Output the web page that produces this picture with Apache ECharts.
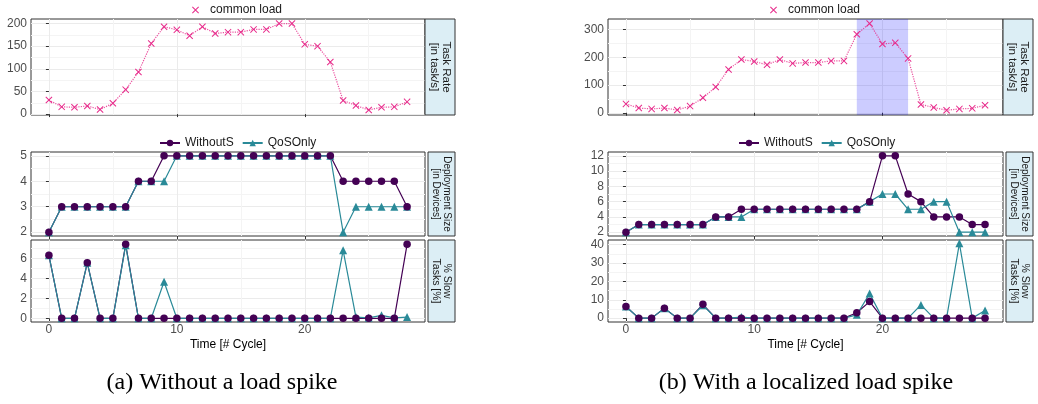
<!DOCTYPE html>
<html><head><meta charset="utf-8">
<script src="https://cdn.jsdelivr.net/npm/echarts@6/dist/echarts.min.js"></script>
<style>html,body{margin:0;padding:0;background:#fff}#c{width:1038px;height:404px}</style>
</head><body><div id="c"></div>
<script>
// ---- data ----
const cycles = [0,1,2,3,4,5,6,7,8,9,10,11,12,13,14,15,16,17,18,19,20,21,22,23,24,25,26,27,28];

const loadA = [31,16,15,18,10,24,54,93,156,193,186,173,193,178,181,181,187,187,200,200,154,150,115,30,19,9,15,16,27];
const loadB = [32,17,14,17,10,24,54,93,156,192,185,173,192,178,181,181,187,187,283,322,248,252,196,30,19,9,14,16,27];

const deployWithoutA = [2,3,3,3,3,3,3,4,4,5,5,5,5,5,5,5,5,5,5,5,5,5,5,4,4,4,4,4,3];
const deployQoSA     = [2,3,3,3,3,3,3,4,4,4,5,5,5,5,5,5,5,5,5,5,5,5,5,2,3,3,3,3,3];
const slowWithoutA   = [6.3,0,0,5.55,0,0,7.4,0,0,0,0,0,0,0,0,0,0,0,0,0,0,0,0,0,0,0,0,0,7.4];
const slowQoSA       = [6.3,0,0,5.55,0,0,7.3,0,0,3.65,0,0,0,0,0,0,0,0,0,0,0,0,0,6.8,0.12,0.05,0.3,0.05,0.12];

const deployWithoutB = [2,3,3,3,3,3,3,4,4,5,5,5,5,5,5,5,5,5,5,6,12,12,7,6,4,4,4,3,3];
const deployQoSB     = [2,3,3,3,3,3,3,4,4,4,5,5,5,5,5,5,5,5,5,6,7,7,5,5,6,6,2,2,2];
const slowWithoutB   = [6.3,0,0,5.4,0,0,7.5,0,0,0,0,0,0,0,0,0,0,0,2.9,9.0,0,0,0,0,0,0,0,0,0];
const slowQoSB       = [6.3,0,0,5.4,0,0,7.0,0,0,0.6,0,0,0,0,0,0,0,0,1.8,13.4,0,0,0,7.2,0,0,40.7,0,4.1];

const spikeB = [18, 22];

// tick values
const xMajor = [0,10,20];
const xMinor = [5,15,25];
const rateMajorA = [0,50,100,150,200];
const rateMinorA = [25,75,125,175];
const rateMajorB = [0,100,200,300];
const rateMinorB = [50,150,250];
const devMajorA = [2,3,4,5];
const devMinorA = [2.5,3.5,4.5];
const devMajorB = [2,4,6,8,10,12];
const devMinorB = [3,5,7,9,11];
const slowMajorA = [0,2,4,6];
const slowMinorA = [1,3,5,7];
const slowMajorB = [0,10,20,30,40];
const slowMinorB = [5,15,25,35];

const stripLabels = ['Task Rate\n[in task/s]', 'Deployment Size\n[in Devices]', '% Slow\nTasks [%]'];
const captions = ['(a) Without a load spike', '(b) With a localized load spike'];

// ---- layout / style ----
const FONT = '"Liberation Sans", Arial, Helvetica, sans-serif';
const PINK = '#E7298A', PURPLE = '#440154', TEAL = '#2A8A98';
const cols = [{left:31, width:394}, {left:608, width:395}];
const rows = [{top:19, height:96}, {top:152, height:84}, {top:240, height:82}];
const yRange = [
  [[-2,210],[1.85,5.15],[-0.37,7.83]],
  [[-8,338],[1.5,12.5],[-2.1,42.5]]
];
const yTicks = [
  [[rateMajorA,rateMinorA],[devMajorA,devMinorA],[slowMajorA,slowMinorA]],
  [[rateMajorB,rateMinorB],[devMajorB,devMinorB],[slowMajorB,slowMinorB]]
];

const grids = [], xAxes = [], yAxes = [], series = [], graphics = [];
const pairs = arr => cycles.map((c,i) => [c, arr[i]]);
const crossPath = 'path://M1,0L5,4L9,0L10,1L6,5L10,9L9,10L5,6L1,10L0,9L4,5L0,1Z';

for (let c = 0; c < 2; c++) {
  for (let r = 0; r < 3; r++) {
    const idx = c*3 + r;
    grids.push({left: cols[c].left, top: rows[r].top, width: cols[c].width, height: rows[r].height,
      show: true, borderColor: '#333333', borderWidth: 1, backgroundColor: '#fff', containLabel: false});
    // major x
    xAxes.push({type:'value', gridIndex: idx, min:-1.4, max:29.4, position:'bottom',
      axisLine:{show:false},
      axisTick:{show:true, inside:false, length:3, lineStyle:{color:'#333'}, customValues: xMajor},
      axisLabel:{show: r===2, customValues: xMajor, color:'#4D4D4D', fontSize:12, fontFamily:FONT, margin:2},
      splitLine:{show:true, lineStyle:{color:'#EBEBEB', width:1}},
      name: r===2 ? 'Time [# Cycle]' : '', nameLocation:'middle', nameGap:17,
      nameTextStyle:{color:'#000', fontSize:12, fontFamily:FONT}});
    // minor x
    xAxes.push({type:'value', gridIndex: idx, min:-1.4, max:29.4, position:'top',
      axisLine:{show:false}, axisTick:{show:false, customValues: xMinor},
      axisLabel:{show:false, customValues: xMinor},
      splitLine:{show:true, lineStyle:{color:'#F4F4F4', width:1}}});
    const yr = yRange[c][r], yt = yTicks[c][r];
    yAxes.push({type:'value', gridIndex: idx, min: yr[0], max: yr[1], position:'left',
      axisLine:{show:false},
      axisTick:{show:true, inside:false, length:3, lineStyle:{color:'#333'}, customValues: yt[0]},
      axisLabel:{show:true, customValues: yt[0], color:'#4D4D4D', fontSize:12, fontFamily:FONT, margin:4},
      splitLine:{show:true, lineStyle:{color:'#EBEBEB', width:1}}});
    yAxes.push({type:'value', gridIndex: idx, min: yr[0], max: yr[1], position:'right',
      axisLine:{show:false}, axisTick:{show:false, customValues: yt[1]},
      axisLabel:{show:false, customValues: yt[1]},
      splitLine:{show:true, lineStyle:{color:'#F4F4F4', width:1}}});

    // strip
    const g = grids[idx];
    const stripX = r === 0 ? g.left + g.width : g.left + g.width + 3;
    const stripW = (c === 0 ? 455 : 1033) - stripX;
    graphics.push({type:'rect', shape:{x: stripX, y: g.top, width: stripW, height: g.height},
      style:{fill:'#DCEEF5', stroke:'#333', lineWidth:1}, z: 10});
    graphics.push({type:'text', x: stripX + stripW/2, y: g.top + g.height/2, rotation: -Math.PI/2, z: 11,
      style:{text: stripLabels[r], fill:'#1A1A1A', fontSize: r===0 ? 11.5 : (r===1 ? 10 : 10.5), fontFamily: FONT,
        align:'center', verticalAlign:'middle', lineHeight: r===0 ? 12 : 11}});
  }
}

const panels = [
  {load: loadA, dw: deployWithoutA, dq: deployQoSA, sw: slowWithoutA, sq: slowQoSA},
  {load: loadB, dw: deployWithoutB, dq: deployQoSB, sw: slowWithoutB, sq: slowQoSB}
];

for (let c = 0; c < 2; c++) {
  const p = panels[c];
  const base = c*3;
  const lineSer = {
    name: 'load trend', type:'line', xAxisIndex: 2*base, yAxisIndex: 2*base, data: pairs(p.load),
    symbol:'none', lineStyle:{color: PINK, width:1.2, type:'dotted', opacity:0.8}, silent:true, z:3
  };
  if (c === 1) {
    lineSer.markArea = {silent:true, itemStyle:{color:'rgba(0,0,255,0.2)'},
      data:[[{xAxis: spikeB[0]}, {xAxis: spikeB[1]}]]};
  }
  series.push(lineSer);
  series.push({name:'common load', type:'scatter', xAxisIndex: 2*base, yAxisIndex: 2*base, data: pairs(p.load),
    symbol: crossPath, symbolSize: 7, itemStyle:{color: PINK, opacity:1}, z:4});

  const rowsData = [[p.dw, p.dq], [p.sw, p.sq]];
  for (let k = 0; k < 2; k++) {
    const ai = 2*(base + 1 + k);
    const [w, q] = rowsData[k];
    series.push({name:'WithoutS', type:'line', xAxisIndex: ai, yAxisIndex: ai, data: pairs(w),
      symbol:'circle', showSymbol:false, lineStyle:{color: PURPLE, width:1.2}, itemStyle:{color: PURPLE}, z:3});
    series.push({name:'QoSOnly', type:'line', xAxisIndex: ai, yAxisIndex: ai, data: pairs(q),
      symbol:'triangle', showSymbol:false, lineStyle:{color: TEAL, width:1.2}, itemStyle:{color: TEAL}, z:3});
    series.push({name:'QoSOnly', type:'scatter', xAxisIndex: ai, yAxisIndex: ai, data: pairs(q),
      symbol:'triangle', symbolSize: 8, itemStyle:{color: TEAL, opacity:1}, z:4});
    series.push({name:'WithoutS', type:'scatter', xAxisIndex: ai, yAxisIndex: ai, data: pairs(w),
      symbol:'circle', symbolSize: 7.5, itemStyle:{color: PURPLE, opacity:1}, z:5});
  }
}

// captions
const CAP_FONT = '"Liberation Serif", "DejaVu Serif", serif';
graphics.push({type:'text', x: 222, y: 383, style:{text: captions[0], fill:'#000', fontSize:24,
  fontFamily: CAP_FONT, align:'center', verticalAlign:'middle'}});
graphics.push({type:'text', x: 806, y: 383, style:{text: captions[1], fill:'#000', fontSize:24,
  fontFamily: CAP_FONT, align:'center', verticalAlign:'middle'}});

const legendBase = {orient:'horizontal', itemGap:8, selectedMode:false,
  textStyle:{color:'#1A1A1A', fontSize:12, fontFamily:FONT}};
const legends = [
  Object.assign({}, legendBase, {data:[{name:'common load', icon: crossPath}], left:187, top:-1, itemWidth:7, itemHeight:7,
    textStyle:{color:'#1A1A1A', fontSize:12, fontFamily:FONT, padding:[0,0,0,6]}}),
  Object.assign({}, legendBase, {data:[{name:'common load', icon: crossPath}], left:765, top:-1, itemWidth:7, itemHeight:7,
    textStyle:{color:'#1A1A1A', fontSize:12, fontFamily:FONT, padding:[0,0,0,6]}}),
  Object.assign({}, legendBase, {data:['WithoutS','QoSOnly'], left:154, top:132, itemWidth:20, itemHeight:8}),
  Object.assign({}, legendBase, {data:['WithoutS','QoSOnly'], left:733, top:132, itemWidth:20, itemHeight:8})
];

const chart = echarts.init(document.getElementById('c'), null, {renderer:'canvas'});
chart.setOption({
  animation:false,
  backgroundColor:'#fff',
  grid: grids, xAxis: xAxes, yAxis: yAxes, series: series, legend: legends, graphic: graphics
});
</script></body></html>
